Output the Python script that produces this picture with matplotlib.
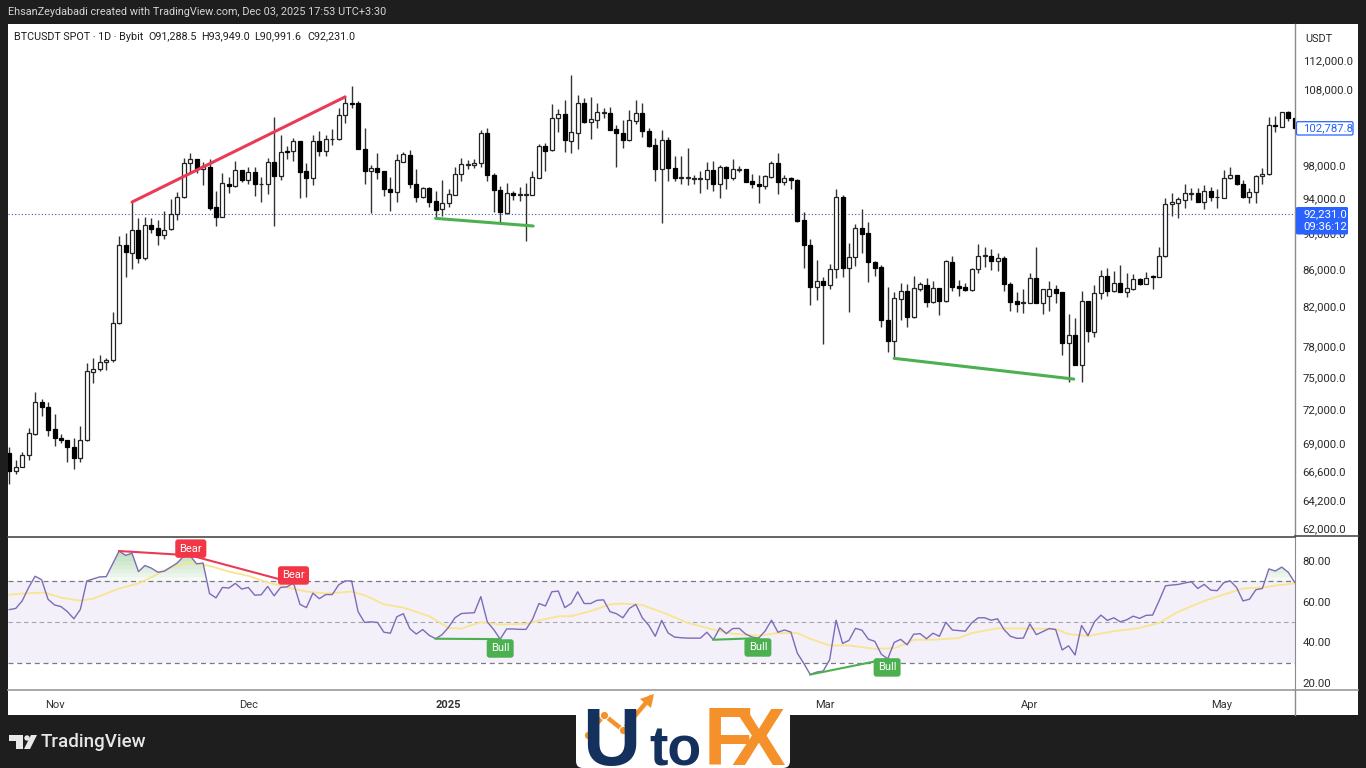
import numpy as np
import matplotlib
matplotlib.use("Agg")
import matplotlib.pyplot as plt
from matplotlib.patches import Rectangle, FancyBboxPatch, Polygon, Circle
from matplotlib.ticker import NullLocator, NullFormatter

plt.rcParams['font.family'] = ['Roboto', 'DejaVu Sans']

opens = [68120,66630,66970,67940,69830,72680,72250,70210,69420,69270,
 68660,67740,69240,75520,75750,76420,76610,80290,88640,87780,
 90340,87230,90910,90530,89800,90420,92220,94190,98290,98790,
 97540,97790,93000,91870,95780,95500,97420,96270,97180,95710,
 95750,98490,96760,99830,99790,101060,97340,96480,101140,99870,
 101320,101320,104440,106110,106070,100120,97370,97700,97340,95180,
 94790,98490,99360,95780,94150,95230,93680,92730,93440,94460,
 96930,98080,98120,98360,102170,96850,95020,92340,94630,94460,
 94460,94460,96520,100460,99920,104040,104570,101140,102170,106070,
 103590,103860,104750,104700,102600,102090,101230,103730,104700,102390,
 100590,97580,101260,97700,96480,96480,96350,96350,96390,97460,
 95750,97830,96520,97500,97540,96110,95780,95550,96560,98290,
 95960,96440,96230,91450,88600,84090,84660,84300,86020,94230,
 86070,87270,90530,89960,86790,86240,80650,78480,82790,83660,
 80930,83880,84270,82480,83920,82580,86790,84120,84020,83740,
 85990,87410,87380,86830,87160,84370,82550,82370,82410,85050,
 82410,83070,83840,83490,78340,79140,76180,82580,79440,83390,
 85230,83630,84510,83530,83840,84910,84370,85200,85130,87450,
 93320,93510,93870,94550,94630,93630,94940,94150,94100,96440,
 96850,95780,94150,94750,96720,96930,103170,102950,104840,104040]
closes = [66630,66970,68000,69860,72650,72220,70180,69420,69240,68660,
 67740,69270,75560,75780,76480,76640,80290,88610,87830,90300,
 87230,90910,90450,89770,90370,92220,94190,98290,98790,97540,
 97950,92850,91870,95830,95550,97420,96230,97180,95750,95780,
 98490,96760,99660,99660,101060,97250,96480,101140,99870,101350,
 101390,104440,106070,105980,100080,97370,97700,97250,95110,94820,
 98660,99410,95750,94150,95230,93630,92650,93470,94510,96930,
 98170,98170,98360,102170,96810,95020,92380,94630,94460,94550,
 94550,96560,100460,99870,104080,104570,101230,102290,106070,103590,
 103900,104840,104840,102510,102090,101230,103780,104700,102350,100500,
 97580,101260,97670,96520,96560,96560,96440,96440,97460,95750,
 97860,96480,97540,97580,96030,95750,95550,96680,98290,95960,
 96440,96200,91370,88600,84090,84660,84300,86020,94230,86070,
 87270,90530,89880,86720,86130,80620,78480,82860,83660,80930,
 83920,84340,82510,83920,82610,86830,84090,83980,83700,86020,
 87450,87490,86830,87160,84370,82510,82300,82480,85050,82410,
 83810,83810,83420,78310,79140,76180,82580,79480,83390,85270,
 83630,84510,83560,83920,84880,84370,85050,85090,87450,93360,
 93560,93910,94630,94670,93630,94940,94150,94230,96440,96850,
 95710,94150,94750,96760,96970,103170,103000,104840,104130,102790]
highs = [68690,67540,68250,70300,73580,72930,72650,71560,69830,69300,
 69420,70510,76330,76810,77160,76810,81470,89660,89960,93590,
 91750,91840,91750,91450,92570,93950,94750,98910,99620,98790,
 98490,98790,94940,97130,96560,98610,97460,97790,97790,96630,
 98910,104250,101870,100500,101440,101100,98290,101830,102420,101870,
 102600,105360,106920,108380,106380,102730,98120,99540,97370,96560,
 99450,99700,99950,97540,95350,95390,94940,96230,95110,97790,
 98910,98700,98790,102510,102730,97130,95500,95830,94940,95420,
 95900,97340,100720,100880,105900,105230,106480,109920,107150,106750,
 106840,106030,105360,105490,103170,103820,105140,106480,106030,102730,
 101440,102510,101650,99200,99200,100170,96850,97340,98410,98540,
 98080,97980,98820,97950,97580,96970,96850,96850,98610,99540,
 96850,96560,96350,92450,89320,86980,85090,86540,95110,94430,
 88900,91030,92770,91220,86870,86430,84020,83560,84450,84340,
 85270,84560,85050,84700,83950,86980,87410,84800,84510,86130,
 88720,88450,88160,87710,87410,84560,83490,83840,85590,88450,
 83810,84700,84270,83560,81240,80790,83630,82610,84270,85880,
 86070,85770,86430,85590,85420,84990,85640,85340,88450,94030,
 94630,94230,95710,95230,95230,95630,95350,95140,97460,97790,
 96880,96230,95300,96850,97740,104250,104390,104920,105050,104040]
lows = [65520,66360,66920,67540,69690,71440,69620,68770,68980,67400,
 66800,67400,69210,74420,75610,75680,76420,80190,85100,86020,
 86620,86980,90030,88640,89350,90370,91490,94030,97050,97130,
 95630,92650,90800,91870,94700,95420,96030,95750,94310,93560,
 94550,90800,96230,98820,98580,94030,94230,95630,99200,99200,
 100590,101230,103390,105360,100080,95750,92340,96350,94310,92530,
 93560,98490,95230,93560,94100,93040,91600,91980,92970,94420,
 96110,97580,97670,97860,96150,92450,91180,92190,93830,93750,
 89090,94390,96440,97370,99870,102290,99660,99540,100080,103390,
 101360,102730,104120,102510,97790,100250,101140,103300,101570,100290,
 96150,91180,96150,96150,95710,95630,95710,94700,95140,94910,
 94030,95140,96230,97180,96000,95230,93440,95110,96520,94550,
 95630,95180,91290,86070,82160,82690,78210,83810,84990,85090,
 81470,86320,87720,84620,85230,79880,77450,76810,80620,79880,
 80790,83600,82000,82410,81130,82510,83630,83110,83630,83660,
 85520,86240,85880,85770,83630,81570,81470,81310,82370,82340,
 81200,81570,82410,77100,74510,76160,74570,78440,78940,82790,
 83110,83560,83530,83040,83740,84300,84340,83840,85090,87340,
 91950,91680,92850,93830,93630,92770,93710,92920,94030,96350,
 95670,94100,93510,93440,95750,96880,102290,102870,103730,102650]

rsi = [56.1,56.7,60.4,67.0,72.5,70.8,61.2,58.4,57.6,55.1,
 51.6,56.2,70.2,71.2,72.2,72.3,78.6,84.9,82.8,83.8,
 74.8,77.8,76.5,74.5,75.0,77.0,79.0,82.4,82.6,78.6,
 79.0,64.0,61.9,67.0,66.7,69.0,66.2,67.0,63.2,63.4,
 67.5,62.9,67.0,67.3,69.2,58.7,57.1,64.2,61.5,63.5,
 63.5,68.3,70.2,70.2,55.1,49.8,50.1,49.8,45.0,44.5,
 52.6,54.1,46.8,44.1,46.3,43.5,41.8,43.8,47.4,52.1,
 54.2,54.4,54.6,62.5,50.1,46.3,41.6,46.6,46.6,46.4,
 46.4,51.3,59.1,57.9,64.9,65.2,57.1,59.2,64.9,59.1,
 59.1,60.7,60.9,55.1,54.1,52.1,56.7,58.7,52.1,48.4,
 43.0,50.8,44.6,42.6,42.3,42.1,42.1,42.1,45.0,41.3,
 47.1,44.3,46.8,46.9,44.1,42.6,42.1,45.5,50.9,45.0,
 46.1,45.1,34.7,29.7,24.2,25.4,25.9,31.4,50.9,39.5,
 41.0,46.9,46.0,41.6,40.5,34.2,31.9,40.0,41.5,38.8,
 44.0,44.3,41.8,44.5,43.0,49.9,46.1,45.8,45.5,49.6,
 52.1,52.1,50.9,51.6,46.3,43.0,42.0,42.1,49.1,43.8,
 45.3,46.8,46.3,36.3,38.3,33.8,48.3,43.3,50.1,53.4,
 50.8,52.1,50.1,51.1,52.9,51.8,53.3,53.4,60.4,67.8,
 68.2,68.5,69.2,69.8,66.5,68.5,65.7,65.4,69.3,70.3,
 67.0,60.4,61.2,65.9,66.5,76.1,75.1,77.0,74.5,69.5]

ma_bars = [1,3,6,7,9,12,14,16,18,21,24,26,29,32,35,38,41,44,47,50,54,56,59,62,66,69,71,
 72,74,77,81,83,86,88,91,94,96,99,103,106,110,113,117,120,123,125,128,131,135,138,140,
 141,144,148,150,154,159,163,165,168,172,176,179,182,186,190,192,195,198,200]
ma_vals = [63.4,64,64.5,64,62,60.5,61.5,64,66.5,69,73.6,77,79.1,77.6,74.8,72.7,69.5,67,65,64,65,63.2,58.7,57.1,52.9,47.1,46.8,
 47.9,49.9,48.8,49.1,50.8,52.8,52.9,55.4,58.7,59.1,58.4,53.7,49.6,46.3,44.3,43.3,44.6,44.6,41.8,38.5,38.5,36.8,37.2,39.6,
 41.3,41.3,42.1,44.6,46.9,46.8,46.6,44.1,43.1,45.5,47.1,49.6,55.1,60.4,64.5,66.5,67,68.3,69]

price_ticks = [112000,108000,98000,94000,90000,86000,82000,78000,75000,72000,69000,66600,64200,62000]
rsi_ticks = [80,60,40,20]
time_bars = [8,38,69,127.3,159,188.7]
time_labels = ['Nov','Dec','2025','Mar','Apr','May']
last_price = 92231.0
view_close = 102787.8

# trend annotations: (bar, price) pairs
bear_price = ([20,53],[93590,106900])
bull_price_1 = ([67,82.1],[91680,90800])
bull_price_2 = ([138,165.8],[76810,74825])
bear_rsi = [([18,29],[84.9,82.8]),([29,45],[82.8,69.2])]
bull_rsi = [([67,77],[41.8,41.6]),([110,117],[41.3,42.1]),([125,137],[24.2,31.9])]
labels_rsi = [('Bear',29.1,86.1,'#f23645'),('Bear',45,72.9,'#f23645'),
              ('Bull',77,37.0,'#4caf50'),('Bull',116.9,37.5,'#4caf50'),('Bull',136.9,27.7,'#4caf50')]

W, H = 1366, 768
FRAME = '#1e1e1e'
fig = plt.figure(figsize=(W/100, H/100), dpi=100, facecolor=FRAME)

def px_axes(x0, y0, x1, y1, **kw):
    return fig.add_axes([x0/W, 1-y1/H, (x1-x0)/W, (y1-y0)/H], **kw)

fig.add_artist(Rectangle((8/W, 1-715/H), 1350/W, 691/H, transform=fig.transFigure,
                         fc='white', ec='none', zorder=-1))

bars = np.arange(1, len(opens)+1)
o, c, h, l = map(np.array, (opens, closes, highs, lows))
XLIM = (0.8, 200.05)

# ---- price pane
ax = px_axes(8, 24, 1295, 536)
ax.set_facecolor('none')
ax.set_yscale('log')
ax.set_xlim(*XLIM)
ax.set_ylim(61360, 117214)
ax.vlines(bars, l, h, color='#333333', lw=1.0, zorder=2)
up = c >= o
body_lo = np.minimum(o, c)
body_hi = np.maximum(o, c)
ax.bar(bars[up], (body_hi-body_lo)[up], bottom=body_lo[up], width=0.62, fc='white', ec='#222222', lw=0.9, zorder=3)
ax.bar(bars[~up], (body_hi-body_lo)[~up], bottom=body_lo[~up], width=0.62, fc='black', ec='black', lw=0.9, zorder=3)
ax.axhline(last_price, color='#3f4fa8', lw=0.8, ls=(0,(1,2)), zorder=1)
ax.plot(*bear_price, color='#ea3a55', lw=2.2, zorder=5, solid_capstyle='round')
ax.plot(*bull_price_1, color='#4caf50', lw=2.2, zorder=5, solid_capstyle='round')
ax.plot(*bull_price_2, color='#4caf50', lw=2.2, zorder=5, solid_capstyle='round')
ax.yaxis.tick_right()
ax.yaxis.set_minor_locator(NullLocator())
ax.yaxis.set_minor_formatter(NullFormatter())
ax.set_yticks(price_ticks)
ax.set_yticklabels([f'{t:,.1f}' for t in price_ticks])
ax.tick_params(axis='y', length=0, pad=5.5, labelsize=8.2, labelcolor='#2a2a2a')
ax.set_xticks([])
for s in ('top', 'left', 'bottom'):
    ax.spines[s].set_visible(False)
ax.spines['right'].set_color('#8a8a8a')
ax.spines['right'].set_linewidth(1)

# ---- RSI pane
ar = px_axes(8, 537, 1295, 690)
ar.set_facecolor('none')
ar.set_xlim(*XLIM)
ar.set_ylim(16.6, 91.8)
ar.axhspan(30, 70, color='#7e57c2', alpha=0.085, lw=0, zorder=1)
r = np.array(rsi)
for lv in np.arange(70, 86, 2):
    ar.fill_between(bars, lv, r, where=r > lv, interpolate=True, color='#4caf50', alpha=0.055, lw=0, zorder=1.5)
ar.axhline(70, color='#787b86', lw=0.9, ls=(0,(4,3)), zorder=2)
ar.axhline(50, color='#a5a7b0', lw=0.8, ls=(0,(4,3)), zorder=2)
ar.axhline(30, color='#787b86', lw=0.9, ls=(0,(4,3)), zorder=2)
ar.plot(ma_bars, ma_vals, color='#f8e58f', lw=1.3, zorder=3)
ar.plot(bars, r, color='#7e6bb8', lw=1.0, zorder=4)
for xs, ys in bear_rsi:
    ar.plot(xs, ys, color='#ea3a55', lw=1.5, zorder=5)
for xs, ys in bull_rsi:
    ar.plot(xs, ys, color='#4caf50', lw=1.5, zorder=5)
for txt, xv, yv, col in labels_rsi:
    ar.text(xv, yv, txt, color='white', fontsize=8, ha='center', va='center', zorder=6,
            bbox=dict(boxstyle='round,pad=0.38,rounding_size=0.25', fc=col, ec='none'))
ar.yaxis.tick_right()
ar.set_yticks(rsi_ticks)
ar.set_yticklabels([f'{t:.2f}' for t in rsi_ticks])
ar.tick_params(axis='y', length=0, pad=5.5, labelsize=8.2, labelcolor='#2a2a2a')
ar.set_xticks(time_bars)
ar.set_xticklabels(time_labels)
ar.tick_params(axis='x', length=0, pad=7, labelsize=8, labelcolor='#333333')
ar.get_xticklabels()[2].set_fontweight('bold')
ar.spines['left'].set_visible(False)
ar.spines['right'].set_color('#8a8a8a')
ar.spines['top'].set_color('#4a4a4a')
ar.spines['top'].set_linewidth(1.2)
ar.spines['bottom'].set_color('#9a9a9a')
ar.spines['bottom'].set_linewidth(1.2)

# ---- overlay for frame text, price boxes and logos
ov = fig.add_axes([0, 0, 1, 1], zorder=10)
ov.set_xlim(0, W)
ov.set_ylim(H, 0)
ov.axis('off')
ov.patch.set_alpha(0)

ov.plot([1295, 1358], [536, 536], color='#4a4a4a', lw=1.2)
ov.plot([1295, 1358], [690, 690], color='#9a9a9a', lw=1.2)
ov.plot([1295, 1295], [690, 715], color='#8a8a8a', lw=1)

ov.text(8, 12, 'EhsanZeydabadi created with TradingView.com, Dec 03, 2025 17:53 UTC+3:30',
        color='#d4d4d4', fontsize=7.8, va='center', ha='left')
ov.text(14, 36.5, 'BTCUSDT SPOT · 1D · Bybit', color='#1e1e1e', fontsize=7.75, va='center', ha='left')
for val, xpos in zip(['O91,288.5', 'H93,949.0', 'L90,991.6', 'C92,231.0'], [148, 201, 254, 307]):
    ov.text(xpos, 36.5, val, color='#1e1e1e', fontsize=7.75, va='center', ha='left')
ov.text(1319, 39, 'USDT', color='#2a2a2a', fontsize=7.8, va='center', ha='center')

ov.add_patch(FancyBboxPatch((1296.5, 121.7), 56.5, 13.3, boxstyle='round,pad=0,rounding_size=1.5',
                            fc='white', ec='#2962ff', lw=0.9))
ov.text(1303.5, 128.3, f'{view_close:,.1f}', color='#2962ff', fontsize=8.2, va='center', ha='left')
ov.add_patch(FancyBboxPatch((1296, 207), 52, 27.5, boxstyle='round,pad=0,rounding_size=1.5',
                            fc='#2962ff', ec='none'))
ov.text(1303.5, 214, f'{last_price:,.1f}', color='white', fontsize=8.2, va='center', ha='left')
ov.text(1303.5, 227, '09:36:12', color='white', fontsize=8.2, va='center', ha='left')

# TradingView mark
ov.add_patch(Polygon([(9,735),(23,735),(23,749),(16,749),(16,741),(9,741)], fc='#e8e8e8', ec='none'))
ov.add_patch(Circle((27, 738), 2.7, fc='#e8e8e8', ec='none'))
ov.add_patch(Polygon([(24,749),(31,735),(37,735),(30,749)], fc='#e8e8e8', ec='none'))
ov.text(41, 742, 'TradingView', color='#e6e6e6', fontsize=13.5, va='center', ha='left', fontweight='medium')

# UtoFX logo
ov.add_patch(FancyBboxPatch((576, 692), 214, 76, boxstyle='round,pad=0,rounding_size=7',
                            fc='white', ec='none'))
NAVY, ORANGE = '#14305c', '#f4912a'
ov.text(582, 765, 'U', color=NAVY, fontsize=58, fontweight='bold', family='Liberation Sans', va='baseline', ha='left')
ov.text(649, 765, 'to', color=NAVY, fontsize=40, fontweight='bold', family='Liberation Sans', va='baseline', ha='left')
ov.text(704, 765, 'F', color=ORANGE, fontsize=58, fontweight='bold', family='Liberation Sans', va='baseline', ha='left')
ov.text(731, 765, 'X', color=ORANGE, fontsize=58, fontweight='bold', family='Liberation Sans', va='baseline', ha='left')
zx, zy = [588, 604, 623, 650], [735, 715, 730, 698]
ov.plot(zx, zy, color=ORANGE, lw=3.2)
ov.plot(zx[:3], zy[:3], 'o', color=ORANGE, ms=6, mec='white', mew=0.8)
ov.add_patch(Polygon([(654, 694), (640, 699), (651, 708)], fc=ORANGE, ec='none'))

fig.savefig('out.png', dpi=100, facecolor=fig.get_facecolor())
